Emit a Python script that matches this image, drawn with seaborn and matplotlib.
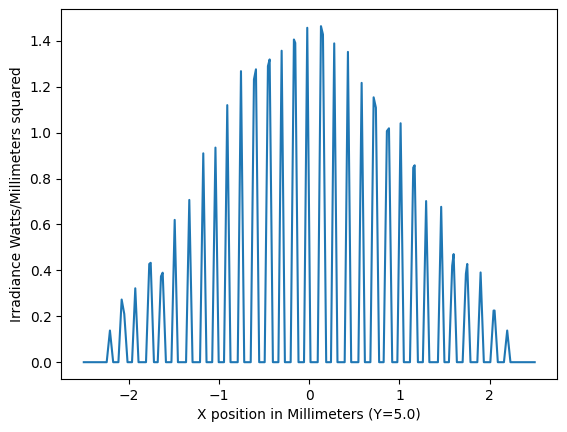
import pandas as pd
import seaborn as sns
import matplotlib.pyplot as plt

# Irradiance cross-section (vertices of the trace)
# each row: left foot, top(s), right foot of one fringe
x_mm = [
    -2.500,
    -2.246, -2.210, -2.174,
    -2.116, -2.080, -2.051, -2.015,
    -1.965, -1.929, -1.893,
    -1.810, -1.774, -1.758, -1.722,
    -1.680, -1.644, -1.625, -1.589,
    -1.528, -1.492, -1.456,
    -1.366, -1.330, -1.294,
    -1.211, -1.175, -1.139,
    -1.076, -1.040, -1.004,
    -0.945, -0.909, -0.873,
    -0.793, -0.757, -0.721,
    -0.649, -0.613, -0.591, -0.555,
    -0.494, -0.458, -0.439, -0.403,
    -0.342, -0.306, -0.270,
    -0.206, -0.170, -0.155, -0.119,
    -0.058, -0.022, 0.014,
    0.094, 0.130, 0.152, 0.188,
    0.241, 0.277, 0.313,
    0.393, 0.429, 0.465,
    0.545, 0.581, 0.617,
    0.678, 0.714, 0.739, 0.775,
    0.825, 0.861, 0.884, 0.920,
    0.977, 1.013, 1.049,
    1.117, 1.153, 1.169, 1.205,
    1.260, 1.296, 1.332,
    1.427, 1.463, 1.499,
    1.549, 1.585, 1.601, 1.637,
    1.701, 1.737, 1.752, 1.788,
    1.864, 1.900, 1.936,
    2.008, 2.044, 2.055, 2.091,
    2.159, 2.195, 2.231,
    2.500,
]
irradiance = [
    0.0,
    0.0, 0.138, 0.0,
    0.0, 0.273, 0.210, 0.0,
    0.0, 0.322, 0.0,
    0.0, 0.428, 0.433, 0.0,
    0.0, 0.374, 0.390, 0.0,
    0.0, 0.620, 0.0,
    0.0, 0.707, 0.0,
    0.0, 0.910, 0.0,
    0.0, 0.935, 0.0,
    0.0, 1.120, 0.0,
    0.0, 1.268, 0.0,
    0.0, 1.232, 1.276, 0.0,
    0.0, 1.290, 1.319, 0.0,
    0.0, 1.357, 0.0,
    0.0, 1.406, 1.391, 0.0,
    0.0, 1.457, 0.0,
    0.0, 1.464, 1.428, 0.0,
    0.0, 1.389, 0.0,
    0.0, 1.352, 0.0,
    0.0, 1.217, 0.0,
    0.0, 1.154, 1.109, 0.0,
    0.0, 1.007, 1.019, 0.0,
    0.0, 1.041, 0.0,
    0.0, 0.848, 0.858, 0.0,
    0.0, 0.702, 0.0,
    0.0, 0.677, 0.0,
    0.0, 0.420, 0.471, 0.0,
    0.0, 0.385, 0.428, 0.0,
    0.0, 0.391, 0.0,
    0.0, 0.225, 0.225, 0.0,
    0.0, 0.138, 0.0,
    0.0,
]

df = pd.DataFrame({'x': x_mm, 'irr': irradiance})

fig = plt.figure(figsize=(5.67, 4.32), dpi=100)
ax = fig.add_axes([0.108, 0.1227, 0.8748, 0.8556])
sns.lineplot(data=df, x='x', y='irr', sort=False, estimator=None, color='tab:blue', linewidth=1.5, ax=ax)
ax.set_xlabel('X position in Millimeters (Y=5.0)')
ax.set_ylabel('Irradiance Watts/Millimeters squared')

plt.savefig('out.png', dpi=100)
